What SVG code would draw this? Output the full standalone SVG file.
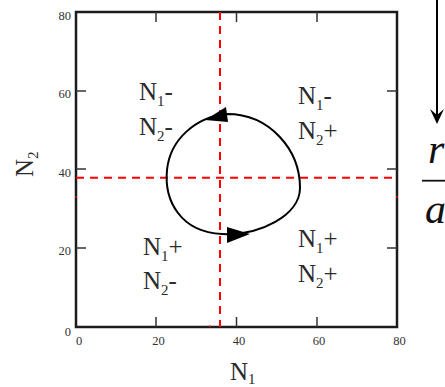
<svg xmlns="http://www.w3.org/2000/svg" width="445" height="387" viewBox="0 0 445 387">
<style>
.frame{fill:none;stroke:#1c1c1c;stroke-width:2.5}
.tick{stroke:#333;stroke-width:1.5}
.tl{font-size:12.5px;fill:#333}
.lbl{font-size:25px;fill:#2a2a2a}
.dash{stroke:#ff0000;stroke-width:2;stroke-dasharray:8 6;fill:none}
.curve{fill:none;stroke:#000;stroke-width:2}
.frac{font-style:italic;font-size:42px;fill:#111}
</style>
<g id="axes" font-family="'Liberation Serif', 'Times New Roman', serif">
<rect class="frame" x="76" y="12" width="321" height="315"/>
<g class="tick">
<line x1="156" y1="12" x2="156" y2="22"/><line x1="236.5" y1="12" x2="236.5" y2="22"/><line x1="317" y1="12" x2="317" y2="22"/>
<line x1="156" y1="327" x2="156" y2="317"/><line x1="236.5" y1="327" x2="236.5" y2="317"/><line x1="317" y1="327" x2="317" y2="317"/>
<line x1="76" y1="91" x2="86" y2="91"/><line x1="76" y1="169" x2="86" y2="169"/><line x1="76" y1="248" x2="86" y2="248"/>
<line x1="397" y1="91" x2="387" y2="91"/><line x1="397" y1="169" x2="387" y2="169"/><line x1="397" y1="248" x2="387" y2="248"/>
</g>
<g class="tl" text-anchor="end">
<text x="71" y="20">80</text><text x="71" y="98">60</text><text x="71" y="177">40</text><text x="71" y="255">20</text><text x="71" y="336">0</text>
</g>
<g class="tl" text-anchor="middle">
<text x="79" y="345">0</text><text x="158.5" y="345">20</text><text x="239" y="345">40</text><text x="319" y="345">60</text><text x="399.5" y="345">80</text>
</g>
<text class="lbl" x="230" y="380">N<tspan font-size="15" dy="4">1</tspan></text>
<text class="lbl" transform="translate(33,177) rotate(-90)">N<tspan font-size="15" dy="5">2</tspan></text>
</g>
<g id="nullclines">
<line class="dash" x1="220" y1="12" x2="220" y2="327"/>
<line class="dash" x1="76" y1="177.7" x2="397" y2="177.7"/>
<rect x="75.5" y="196" width="1.6" height="1.6" fill="#ff0000"/>
<rect x="396" y="196" width="1.6" height="1.6" fill="#ff0000"/>
<rect x="209" y="325.5" width="1.6" height="1.6" fill="#ff0000"/>
</g>
<g id="q-tl" font-family="'Liberation Serif', 'Times New Roman', serif">
<text class="lbl" x="139" y="100">N<tspan font-size="15" dy="6">1</tspan><tspan dy="-6">-</tspan></text>
<text class="lbl" x="139" y="135">N<tspan font-size="15" dy="6">2</tspan><tspan dy="-6">-</tspan></text>
</g>
<g id="q-tr" font-family="'Liberation Serif', 'Times New Roman', serif">
<text class="lbl" x="298" y="104">N<tspan font-size="15" dy="6">1</tspan><tspan dy="-6">-</tspan></text>
<text class="lbl" x="298" y="139">N<tspan font-size="15" dy="6">2</tspan><tspan dy="-6">+</tspan></text>
</g>
<g id="q-bl" font-family="'Liberation Serif', 'Times New Roman', serif">
<text class="lbl" x="143" y="255">N<tspan font-size="15" dy="6">1</tspan><tspan dy="-6">+</tspan></text>
<text class="lbl" x="143" y="289">N<tspan font-size="15" dy="6">2</tspan><tspan dy="-6">-</tspan></text>
</g>
<g id="q-br" font-family="'Liberation Serif', 'Times New Roman', serif">
<text class="lbl" x="298" y="247">N<tspan font-size="15" dy="6">1</tspan><tspan dy="-6">+</tspan></text>
<text class="lbl" x="298" y="282">N<tspan font-size="15" dy="6">2</tspan><tspan dy="-6">+</tspan></text>
</g>
<g id="cycle">
<path class="curve" d="M227,114 C195,117 170,140 167,170 C164,200 180,232 222,234 C260,236 300,215 300,188 C300,150 270,114 227,114 Z"/>
<polygon points="226,107 228,122 205,120" fill="#000"/>
<polygon points="227,227 227,243 250,234" fill="#000"/>
</g>
<g id="right-expr" font-family="'Liberation Serif', 'Times New Roman', serif">
<line x1="437" y1="0" x2="437" y2="118" stroke="#000" stroke-width="2"/>
<path d="M430,109 L437,124 L444,109 L437,115 Z" fill="#000"/>
<text class="frac" x="428" y="163">r</text>
<line x1="422" y1="180.7" x2="445" y2="180.7" stroke="#111" stroke-width="1.8"/>
<text class="frac" x="425" y="223">a</text>
</g>
</svg>
